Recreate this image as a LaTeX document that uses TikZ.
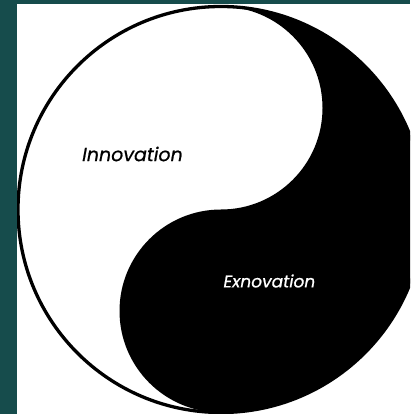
\documentclass[tikz,border=0pt]{standalone}
\usepackage{fontspec}
\newfontfamily\lblfont{Poppins}[FakeSlant=0.18,FakeBold=0.8]
\definecolor{teal}{RGB}{22,76,76}
\tikzset{lbl/.style={font=\lblfont, inner sep=0pt}}
\begin{document}
\begin{tikzpicture}[x=1pt,y=1pt]
\useasboundingbox (0,0) rectangle (410,414);
\fill[teal] (0,0) rectangle (410,414);
\fill[white] (17,0) rectangle (410,410);
\begin{scope}
\clip (17,0) rectangle (410,410);
\fill[black] (221,407.5) arc[start angle=90, end angle=-90, radius=203pt]
  arc[start angle=-90, end angle=-270, radius=101.5pt]
  arc[start angle=-90, end angle=90, radius=101.5pt] -- cycle;
\draw[line width=3.3pt] (221,204.5) circle[radius=203pt];
\end{scope}
\node[lbl, text=black, font=\lblfont\fontsize{19}{22}\selectfont] (inno) at (131.5,260) {Innovation};
\node[lbl, text=white, font=\lblfont\fontsize{17}{20}\selectfont] (exno) at (268.5,133) {Exnovation};
\end{tikzpicture}
\end{document}
